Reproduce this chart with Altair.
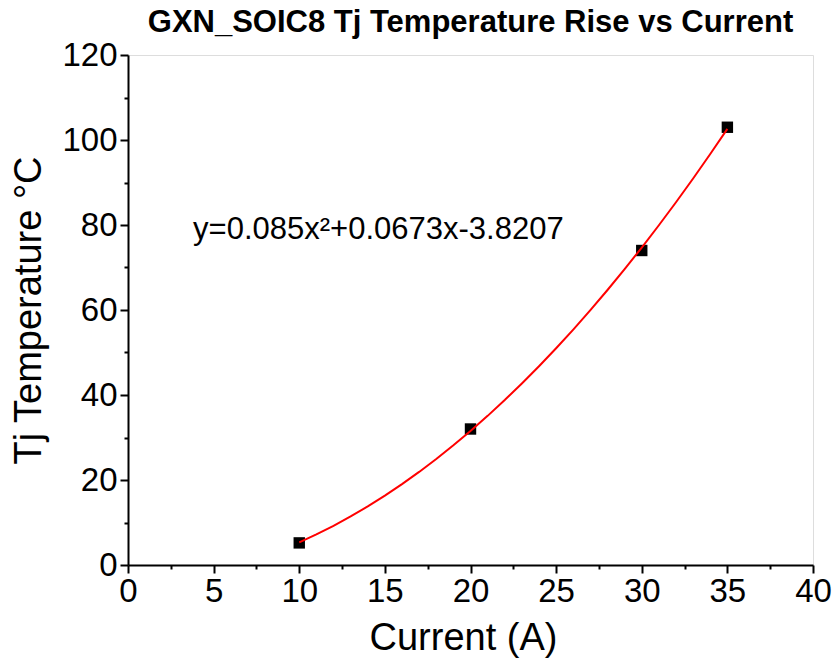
import altair as alt
import pandas as pd

# Data
current = [10, 20, 30, 35]
temp = [5.2, 32, 74, 103]

x_major = [0, 5, 10, 15, 20, 25, 30, 35, 40]
x_minor = [2.5, 7.5, 12.5, 17.5, 22.5, 27.5, 32.5, 37.5]
y_major = [0, 20, 40, 60, 80, 100, 120]
y_minor = [10, 30, 50, 70, 90, 110]

eq_label = ["y=0.085x²+0.0673x-3.8207"]
eq_x = [3.8]
eq_y = [78.8]

df = pd.DataFrame({"current": current, "temp": temp})
eq_df = pd.DataFrame({"current": eq_x, "temp": eq_y, "label": eq_label})

FONT = "Liberation Sans"
xs = alt.Scale(domain=[0, 40], nice=False, zero=False)
ys = alt.Scale(domain=[0, 120], nice=False, zero=False)

common_axis = dict(
    grid=False, domain=True, domainColor="black", domainWidth=2,
    ticks=True, tickColor="black", tickWidth=2, tickSize=8,
    labelFont=FONT, labelFontSize=33, labelColor="black",
    labelFlush=False, labelOverlap=False,
    titleFont=FONT, titleFontSize=38, titleFontWeight="normal", titleColor="black",
)

x_axis = alt.Axis(values=x_major, title="Current (A)", orient="bottom",
                  labelPadding=2, titlePadding=11, titleX=335, **common_axis)
y_axis = alt.Axis(values=y_major, title="Tj Temperature °C", orient="left",
                  labelPadding=3, titlePadding=13, **common_axis)

minor_common = dict(grid=False, domain=False, labels=False, ticks=True,
                    tickColor="black", tickWidth=2, tickSize=4, title="")
x_axis_minor = alt.Axis(values=x_minor, orient="bottom", **minor_common)
y_axis_minor = alt.Axis(values=y_minor, orient="left", **minor_common)

points = alt.Chart(df).mark_square(size=130, color="black", opacity=1).encode(
    x=alt.X("current:Q", scale=xs, axis=x_axis),
    y=alt.Y("temp:Q", scale=ys, axis=y_axis),
)

fit = alt.Chart(df).transform_regression(
    "current", "temp", method="poly", order=2
).mark_line(color="red", strokeWidth=2).encode(
    x=alt.X("current:Q", scale=xs, axis=x_axis_minor),
    y=alt.Y("temp:Q", scale=ys, axis=y_axis_minor),
)

eq = alt.Chart(eq_df).mark_text(
    align="left", baseline="middle", font=FONT, fontSize=31, color="black"
).encode(
    x=alt.X("current:Q", scale=xs, axis=None),
    y=alt.Y("temp:Q", scale=ys, axis=None),
    text="label:N",
)

chart = alt.layer(points, fit, eq).resolve_axis(
    x="independent", y="independent"
).properties(
    width=685, height=510,
    title=alt.TitleParams(
        "GXN_SOIC8 Tj Temperature Rise vs Current",
        font=FONT, fontSize=31, fontWeight="bold", color="black",
        anchor="middle", offset=0,
    ),
    autosize=alt.AutoSizeParams(type="none"),
    padding={"left": 128, "top": 55, "right": 21, "bottom": 95},
).configure_view(stroke="black", strokeWidth=2).configure(background="white")

chart.save("out.html", embed_options={"renderer": "svg", "actions": False})
